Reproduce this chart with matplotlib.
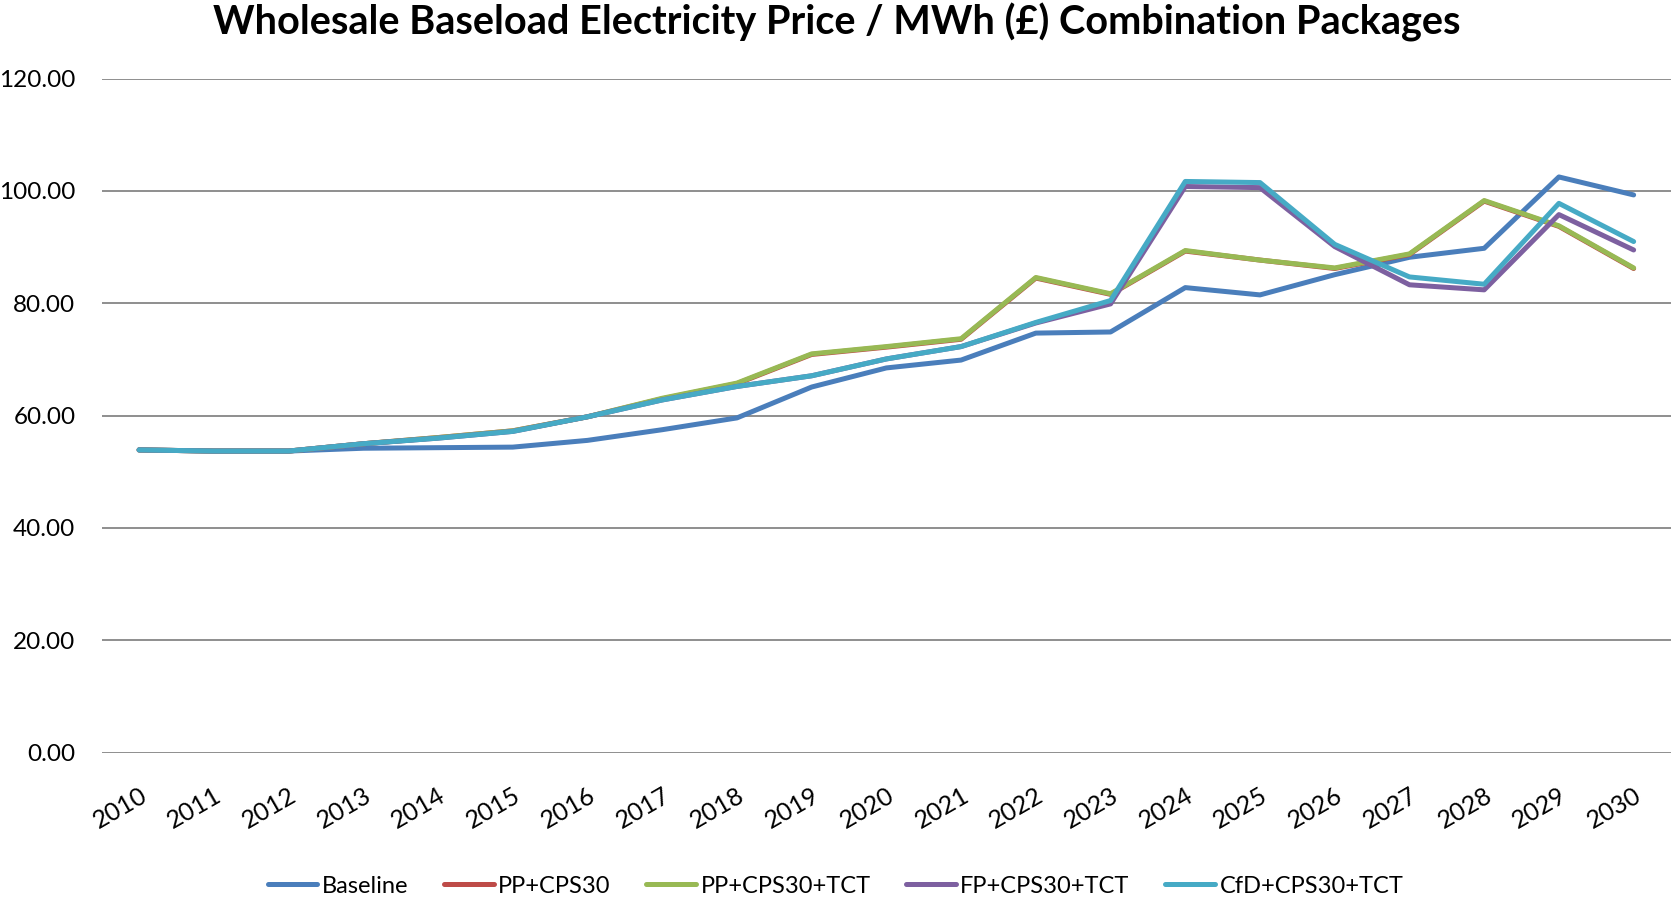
import matplotlib
matplotlib.use('Agg')
import matplotlib.pyplot as plt
import numpy as np

plt.rcParams['font.family'] = ['Lato', 'DejaVu Sans']

years = [str(y) for y in range(2010, 2031)]

baseline = [53.9, 53.7, 53.7, 54.2, 54.3, 54.4, 55.6, 57.5, 59.6, 65.1, 68.5, 69.9,
            74.7, 74.9, 82.8, 81.5, 85.1, 88.2, 89.8, 102.5, 99.3]
pp_cps30 = [53.9, 53.7, 53.7, 55.0, 56.1, 57.3, 59.8, 63.0, 65.7, 70.9, 72.2, 73.6,
            84.5, 81.6, 89.3, 87.7, 86.2, 88.7, 98.2, 93.7, 86.2]
pp_cps30_tct = [53.9, 53.7, 53.7, 55.0, 56.1, 57.3, 59.8, 63.1, 65.8, 71.0, 72.3, 73.7,
                84.6, 81.7, 89.4, 87.7, 86.3, 88.8, 98.3, 93.8, 86.3]
fp_cps30_tct = [53.9, 53.7, 53.7, 55.0, 56.0, 57.2, 59.8, 62.8, 65.2, 67.1, 70.1, 72.3,
                76.5, 79.9, 100.8, 100.6, 90.1, 83.3, 82.4, 95.8, 89.5]
cfd_cps30_tct = [53.9, 53.7, 53.7, 55.0, 56.0, 57.2, 59.8, 62.8, 65.2, 67.1, 70.1, 72.3,
                 76.6, 80.5, 101.7, 101.5, 90.5, 84.7, 83.4, 97.8, 91.0]

series = [
    ('Baseline', baseline, '#4A7EBB'),
    ('PP+CPS30', pp_cps30, '#BE4B48'),
    ('PP+CPS30+TCT', pp_cps30_tct, '#98B954'),
    ('FP+CPS30+TCT', fp_cps30_tct, '#7D60A0'),
    ('CfD+CPS30+TCT', cfd_cps30_tct, '#46AAC5'),
]

fig = plt.figure(figsize=(16.71, 9.0), dpi=100)
ax = fig.add_axes([0.0609, 0.1637, 0.9391, 0.7489])

x = np.arange(len(years))
for name, vals, col in series:
    ax.plot(x, vals, color=col, lw=3.6, label=name,
            solid_capstyle='round', solid_joinstyle='round')

ax.set_xlim(-0.5, len(years) - 0.5)
ax.set_ylim(0, 120)
ax.set_yticks(np.arange(0, 121, 20))
ax.set_yticklabels(['%.2f' % v for v in np.arange(0, 121, 20)], fontsize=17.5)
ax.set_xticks(x)
ax.set_xticklabels(years, fontsize=18, rotation=30, ha='right',
                   rotation_mode='anchor')
ax.tick_params(axis='both', length=0)
ax.tick_params(axis='x', pad=22)
ax.tick_params(axis='y', pad=19)

ax.grid(axis='y', color='#868686', lw=1.3)
ax.set_axisbelow(True)
for s in ax.spines.values():
    s.set_visible(False)

fig.suptitle('Wholesale Baseload Electricity Price / MWh (£) Combination Packages',
             fontsize=28.5, fontweight='bold', x=0.501, y=0.997, va='top')

fig.legend(loc='lower center', ncol=5, bbox_to_anchor=(0.5, -0.02),
           frameon=False, fontsize=17, handlelength=2.1, handletextpad=0.2,
           columnspacing=1.5)

fig.savefig('out.png', dpi=100)
